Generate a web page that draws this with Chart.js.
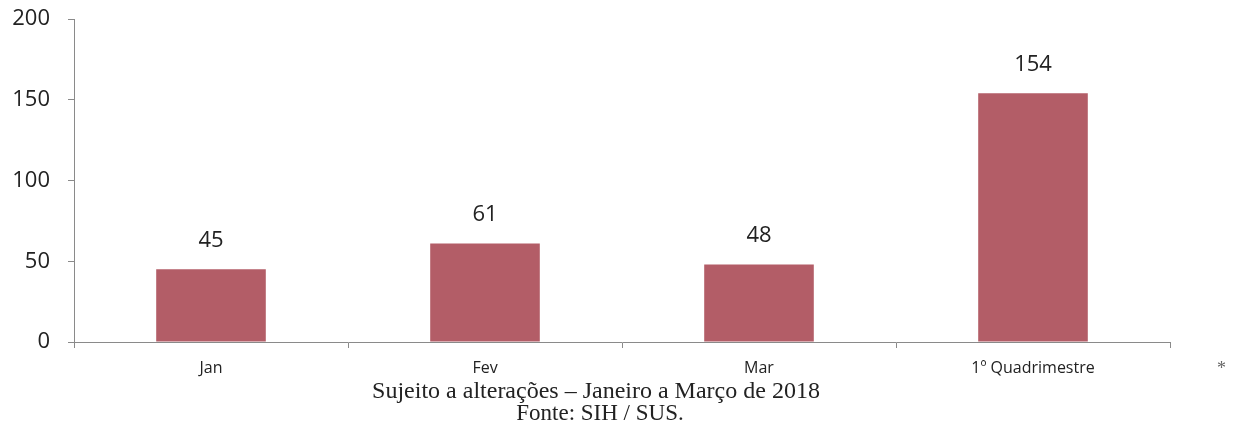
<!DOCTYPE html>
<html>
<head>
<meta charset="utf-8">
<script src="https://cdn.jsdelivr.net/npm/chart.js@4"></script>
<style>
    body { margin: 0; background: #fff; }
    #wrap { position: relative; width: 1246px; height: 441px; }
    #chart { position: absolute; left: 0; top: 0; }
    .note { position: absolute; font-family: "Liberation Serif", serif; color: #222; white-space: nowrap; line-height: 1; }
</style>
</head>
<body>
<div id="wrap">
    <canvas id="chart" width="1246" height="441"></canvas>
    <div class="note" style="left:0; width:1192px; text-align:center; top:378px; font-size:24px;">Sujeito a alterações – Janeiro a Março de 2018</div>
    <div class="note" style="left:0; width:1200px; text-align:center; top:401px; font-size:23px;">Fonte: SIH / SUS.</div>
    <div class="note" style="left:1217px; top:359px; font-size:18px; color:#666;">*</div>
</div>
<script>
const categories = ["Jan", "Fev", "Mar", "1º Quadrimestre"];
const values = [45, 61, 48, 154];
const yTicks = [0, 50, 100, 150, 200];

const barColor = "#b35d67";
const axisColor = "#8a8a8a";

// numbers over the bars
const valueLabels = {
    id: "valueLabels",
    afterDatasetsDraw(chart) {
        const ctx = chart.ctx;
        const meta = chart.getDatasetMeta(0);
        ctx.save();
        ctx.font = "22px 'Open Sans'";
        ctx.fillStyle = "#222";
        ctx.textAlign = "center";
        ctx.textBaseline = "middle";
        meta.data.forEach((bar, i) => {
            ctx.fillText(values[i], bar.x, bar.y - 29);
        });
        ctx.restore();
    }
};

const ctx = document.getElementById("chart").getContext("2d");
new Chart(ctx, {
    type: "bar",
    data: {
        labels: categories,
        datasets: [{
            data: values,
            backgroundColor: barColor,
            borderWidth: 0,
            barPercentage: 0.8,
            categoryPercentage: 0.5
        }]
    },
    options: {
        responsive: false,
        animation: false,
        layout: { padding: { top: 19, right: 76, bottom: 59, left: 0 } },
        plugins: { legend: { display: false }, tooltip: { enabled: false } },
        scales: {
            x: {
                offset: true,
                grid: { offset: true, drawOnChartArea: false, drawTicks: true, tickLength: 6, color: axisColor },
                border: { color: axisColor, width: 1 },
                ticks: { font: { family: "Open Sans", size: 16 }, color: "#222", padding: 11, maxRotation: 0 },
                afterFit(scale) {
                    scale.height = 40;
                    scale.paddingLeft = 0;
                    scale.paddingRight = 0;
                }
            },
            y: {
                min: 0,
                max: 200,
                afterBuildTicks(scale) { scale.ticks = yTicks.map(v => ({ value: v })); },
                grid: { drawOnChartArea: false, drawTicks: true, tickLength: 6, color: axisColor },
                border: { color: axisColor, width: 1 },
                ticks: { font: { family: "Open Sans", size: 22 }, color: "#222", padding: 18 },
                afterFit(scale) {
                    scale.width = 74;
                    scale.paddingTop = 0;
                    scale.paddingBottom = 0;
                }
            }
        }
    },
    plugins: [valueLabels]
});
</script>
</body>
</html>
